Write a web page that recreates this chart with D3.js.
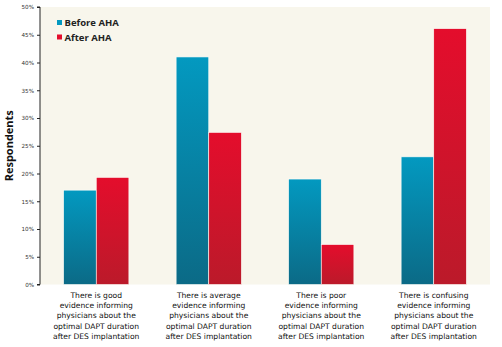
<!DOCTYPE html>
<html>
<head>
  <script src="https://d3js.org/d3.v7.min.js"></script>
  <style>
    body { margin: 0; background: #fff; }
    svg text { font-family: "DejaVu Sans", sans-serif; }
    svg text.heavy { font-family: "Open Sans", sans-serif; }
  </style>
</head>
<body>
  <div id="chart"></div>
  <script>
    // survey answers, share of respondents before and after the AHA statement
    var categories = [
      ['There is good', 'evidence informing', 'physicians about the', 'optimal DAPT duration', 'after DES implantation'],
      ['There is average', 'evidence informing', 'physicians about the', 'optimal DAPT duration', 'after DES implantation'],
      ['There is poor', 'evidence informing', 'physicians about the', 'optimal DAPT duration', 'after DES implantation'],
      ['There is confusing', 'evidence informing', 'physicians about the', 'optimal DAPT duration', 'after DES implantation']
    ];
    var seriesNames = ['Before AHA', 'After AHA'];
    var beforeAHA = [17, 41, 19, 23];
    var afterAHA = [19.3, 27.4, 7.2, 46.1];
    var yTicks = [0, 5, 10, 15, 20, 25, 30, 35, 40, 45, 50];

    var width = 502, height = 347;
    var margin = { top: 7, right: 12, bottom: 62, left: 40 };
    var innerW = width - margin.left - margin.right;
    var innerH = height - margin.top - margin.bottom - 0.5;

    var svg = d3.select('#chart').append('svg')
      .attr('width', width)
      .attr('height', height);

    // vertical gradients for the two series
    var defs = svg.append('defs');
    var grads = [
      { id: 'gBefore', top: '#0399c0', bottom: '#0b6a86' },
      { id: 'gAfter', top: '#e40d2c', bottom: '#bb1a2a' }
    ];
    grads.forEach(function(g) {
      var lg = defs.append('linearGradient')
        .attr('id', g.id)
        .attr('x1', 0).attr('y1', 0).attr('x2', 0).attr('y2', 1);
      lg.append('stop').attr('offset', '0%').attr('stop-color', g.top);
      lg.append('stop').attr('offset', '100%').attr('stop-color', g.bottom);
    });

    var g = svg.append('g')
      .attr('transform', 'translate(' + margin.left + ',' + margin.top + ')');

    g.append('rect')
      .attr('width', innerW)
      .attr('height', innerH)
      .attr('fill', '#f8f6ec');

    var x0 = d3.scaleBand()
      .domain(d3.range(categories.length))
      .range([0, innerW])
      .paddingInner(0.42)
      .paddingOuter(0.21);

    var x1 = d3.scaleBand()
      .domain([0, 1])
      .range([0, x0.bandwidth()]);

    var y = d3.scaleLinear()
      .domain([0, 50])
      .range([innerH, 0]);

    var yAxis = g.append('g')
      .call(d3.axisLeft(y).tickValues(yTicks).tickSize(3).tickFormat(function(d) { return d + '%'; }));
    yAxis.select('.domain').attr('stroke', '#222').attr('d', 'M-3,' + innerH + 'H0V0H-3');
    yAxis.selectAll('.tick line').attr('stroke', '#222');
    yAxis.selectAll('.tick text')
      .attr('x', -6)
      .attr('font-size', 5.6)
      .attr('fill', '#333');

    var groups = g.selectAll('.grp')
      .data(categories)
      .enter()
      .append('g')
      .attr('class', 'grp')
      .attr('transform', function(d, i) { return 'translate(' + x0(i) + ',0)'; });

    var series = [beforeAHA, afterAHA];
    groups.selectAll('rect')
      .data(function(d, i) { return series.map(function(s, k) { return { k: k, v: s[i] }; }); })
      .enter()
      .append('rect')
      .attr('x', function(d) { return x1(d.k); })
      .attr('y', function(d) { return y(d.v); })
      .attr('width', x1.bandwidth())
      .attr('height', function(d) { return innerH - y(d.v); })
      .attr('fill', function(d) { return 'url(#' + grads[d.k].id + ')'; })
      .attr('stroke', '#fdfdf8')
      .attr('stroke-width', 0.6);

    // category labels under each pair of bars
    groups.append('text')
      .attr('text-anchor', 'middle')
      .attr('font-size', 7.6)
      .attr('fill', '#111')
      .selectAll('tspan')
      .data(function(d) { return d; })
      .enter()
      .append('tspan')
      .attr('x', x0.bandwidth() / 2)
      .attr('y', function(d, i) { return innerH + 13.5 + i * 10.2; })
      .text(function(d) { return d; });

    // legend
    var legend = g.selectAll('.legend')
      .data(seriesNames)
      .enter()
      .append('g')
      .attr('class', 'legend')
      .attr('transform', function(d, i) { return 'translate(17,' + (13 + i * 14.5) + ')'; });
    legend.append('rect')
      .attr('width', 5).attr('height', 5)
      .attr('fill', function(d, i) { return grads[i].top; });
    legend.append('text')
      .attr('class', 'heavy')
      .attr('x', 7.5).attr('y', 6)
      .attr('font-size', 9.5)
      .attr('font-weight', 'bold')
      .attr('fill', '#222')
      .text(function(d) { return d; });

    svg.append('text')
      .attr('class', 'heavy')
      .attr('transform', 'translate(13,' + (margin.top + innerH / 2) + ') rotate(-90)')
      .attr('text-anchor', 'middle')
      .attr('font-size', 11)
      .attr('font-weight', 'bold')
      .attr('fill', '#111')
      .text('Respondents');
  </script>
</body>
</html>
